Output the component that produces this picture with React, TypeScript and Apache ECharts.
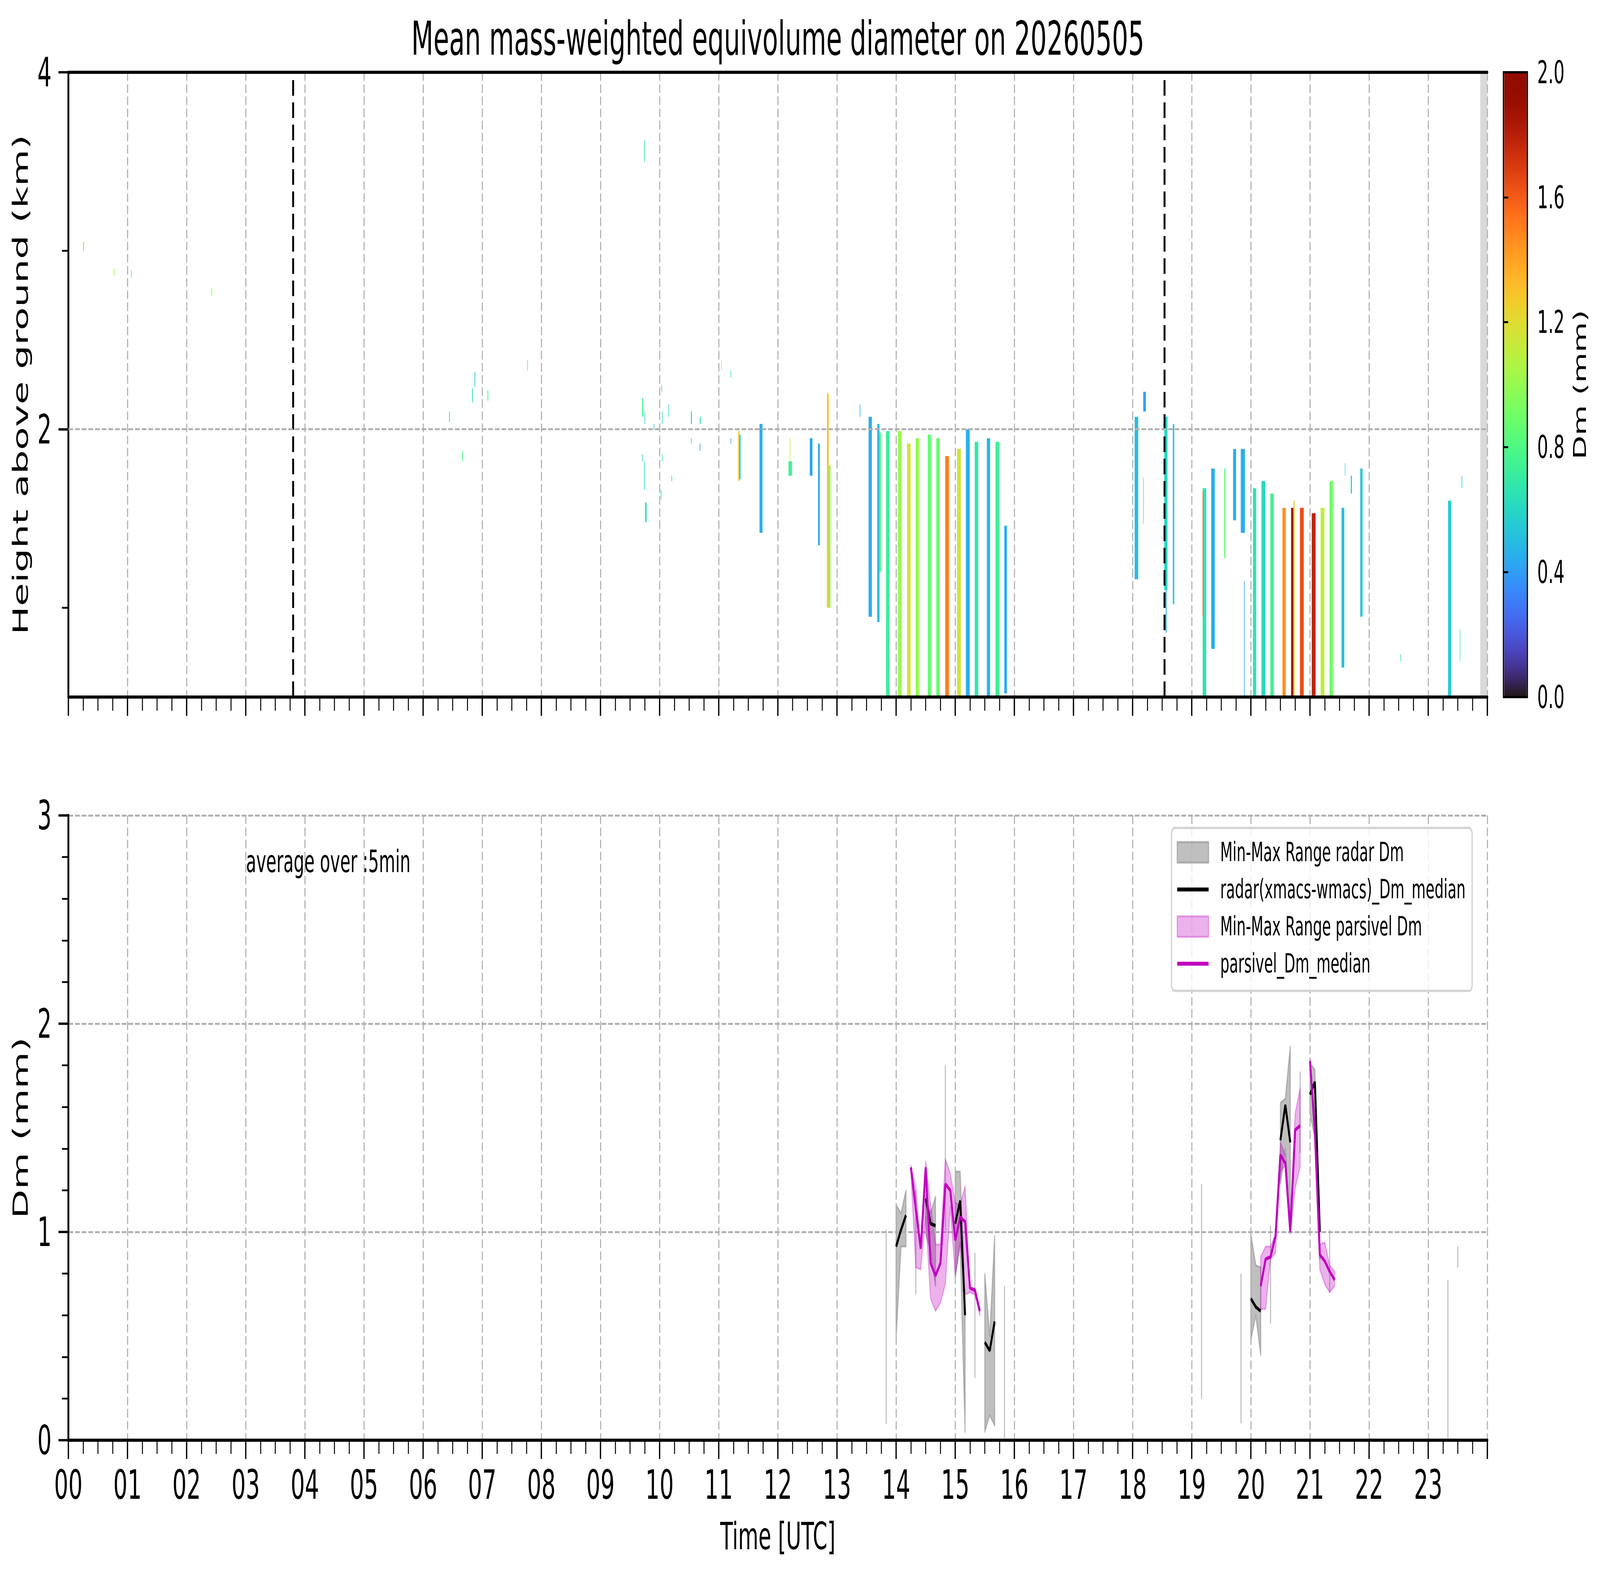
import { useEffect, useRef } from 'react'
import * as echarts from 'echarts'

// radar Dm field: [start (h), end (h), bottom (km), top (km), Dm (mm)]
const radarCells: number[][] = [
  [0.25, 0.262, 3.0, 3.05, 1.4],
  [0.77, 0.782, 2.86, 2.9, 1.0],
  [1.06, 1.072, 2.85, 2.89, 0.9],
  [2.42, 2.432, 2.75, 2.79, 0.95],
  [6.44, 6.452, 2.04, 2.1, 0.65],
  [6.66, 6.672, 1.82, 1.88, 0.8],
  [6.83, 6.842, 2.15, 2.23, 0.6],
  [6.87, 6.882, 2.24, 2.32, 0.55],
  [7.09, 7.102, 2.16, 2.22, 0.75],
  [7.76, 7.772, 2.33, 2.39, 0.85],
  [9.74, 9.752, 3.5, 3.62, 0.7],
  [9.706, 9.724, 2.07, 2.175, 0.75],
  [9.745, 9.755, 2.03, 2.1, 0.55],
  [9.71, 9.72, 1.82, 1.86, 0.55],
  [9.74, 9.75, 1.66, 1.82, 0.6],
  [9.755, 9.78, 1.48, 1.59, 0.62],
  [9.9, 9.91, 2.0, 2.03, 0.5],
  [10.03, 10.04, 2.21, 2.25, 0.65],
  [10.04, 10.05, 2.03, 2.1, 0.6],
  [10.04, 10.05, 1.82, 1.86, 0.65],
  [10.02, 10.03, 1.61, 1.66, 0.55],
  [10.15, 10.16, 2.07, 2.14, 0.6],
  [10.2, 10.21, 1.71, 1.74, 0.55],
  [10.53, 10.545, 2.03, 2.1, 0.5],
  [10.53, 10.54, 1.92, 1.95, 0.6],
  [10.68, 10.695, 2.03, 2.07, 0.65],
  [10.68, 10.69, 1.88, 1.92, 0.35],
  [11.04, 11.05, 2.33, 2.38, 1.2],
  [11.2, 11.21, 2.29, 2.33, 0.65],
  [11.2, 11.21, 1.92, 1.95, 0.4],
  [11.33, 11.35, 1.71, 1.99, 1.3],
  [11.35, 11.37, 1.72, 1.97, 0.55],
  [11.69, 11.74, 1.42, 2.03, 0.45],
  [12.18, 12.24, 1.74, 1.82, 0.75],
  [12.2, 12.21, 1.82, 1.95, 1.1],
  [12.54, 12.585, 1.74, 1.95, 0.42],
  [12.68, 12.71, 1.35, 1.92, 0.45],
  [12.83, 12.86, 1.0, 2.2, 1.3],
  [12.86, 12.89, 1.0, 1.8, 0.95],
  [13.385, 13.395, 2.07, 2.14, 0.45],
  [13.535, 13.59, 0.95, 2.07, 0.45],
  [13.68, 13.72, 0.92, 2.03, 0.5],
  [13.72, 13.745, 1.2, 1.98, 0.8],
  [13.83, 13.89, 0.5, 1.99, 0.72],
  [14.03, 14.095, 0.5, 1.99, 1.0],
  [14.185, 14.245, 0.5, 1.92, 1.16],
  [14.33, 14.39, 0.5, 1.95, 1.0],
  [14.535, 14.59, 0.5, 1.97, 0.86],
  [14.68, 14.74, 0.5, 1.95, 0.88],
  [14.83, 14.895, 0.5, 1.85, 1.5],
  [15.03, 15.095, 0.5, 1.89, 1.16],
  [15.18, 15.245, 0.5, 2.0, 0.46],
  [15.33, 15.39, 0.5, 1.93, 0.68],
  [15.535, 15.59, 0.5, 1.95, 0.48],
  [15.68, 15.745, 0.5, 1.93, 0.74],
  [15.83, 15.875, 0.52, 1.46, 0.45],
  [18.035, 18.095, 1.16, 2.07, 0.5],
  [18.18, 18.225, 2.1, 2.21, 0.4],
  [18.18, 18.19, 1.47, 1.73, 0.7],
  [18.535, 18.59, 1.1, 2.07, 0.6],
  [18.56, 18.575, 0.86, 1.1, 0.45],
  [18.68, 18.705, 1.02, 2.03, 0.55],
  [19.185, 19.245, 0.5, 1.67, 0.66],
  [19.185, 19.195, 0.95, 1.65, 1.6],
  [19.33, 19.39, 0.77, 1.78, 0.45],
  [19.55, 19.57, 1.28, 1.78, 0.85],
  [19.7, 19.75, 1.49, 1.89, 0.45],
  [19.83, 19.9, 1.42, 1.89, 0.45],
  [19.885, 19.895, 0.5, 1.15, 0.4],
  [20.035, 20.09, 0.5, 1.67, 0.66],
  [20.18, 20.245, 0.5, 1.71, 0.6],
  [20.33, 20.39, 0.5, 1.64, 0.75],
  [20.535, 20.59, 0.5, 1.56, 1.46],
  [20.68, 20.72, 0.5, 1.56, 1.84],
  [20.72, 20.74, 0.5, 1.6, 1.25],
  [20.83, 20.895, 0.5, 1.56, 1.64],
  [21.03, 21.095, 0.5, 1.53, 1.78],
  [21.18, 21.245, 0.5, 1.56, 1.1],
  [21.33, 21.39, 0.5, 1.71, 0.9],
  [21.535, 21.58, 0.665, 1.56, 0.5],
  [21.59, 21.596, 1.74, 1.81, 0.55],
  [21.69, 21.71, 1.64, 1.74, 0.6],
  [21.85, 21.89, 0.95, 1.78, 0.55],
  [22.53, 22.54, 0.7, 0.74, 0.65],
  [23.335, 23.39, 0.5, 1.6, 0.56],
  [23.535, 23.541, 0.7, 0.88, 0.6],
  [23.565, 23.575, 1.67, 1.74, 0.55],
]

const noDataSpan = [23.88, 24]
const eventTimes = [3.8, 18.535]

// 5-minute statistics of Dm (mm)
const statTimes = [
  '13:50', '14:00', '14:05', '14:10', '14:15', '14:20', '14:25', '14:30', '14:35', '14:40', '14:45', '14:50',
  '14:55', '15:00', '15:05', '15:10', '15:15', '15:20', '15:25', '15:30', '15:35', '15:40', '15:50',
  '19:10', '19:50', '20:00', '20:05', '20:10', '20:15', '20:20', '20:25', '20:30', '20:35', '20:40', '20:45',
  '20:50', '21:00', '21:05', '21:10', '21:15', '21:20', '21:25', '23:20', '23:30',
]
const radarMin = [
  0.08, 0.49, 0.93, 0.93, null, 0.7, null, 0.99, 0.91, 0.74, null, 1.01,
  null, 0.78, 0.94, 0.04, null, 0.3, null, 0.04, 0.12, 0.07, 0.01,
  0.2, 0.08, 0.48, 0.6, 0.41, null, 0.56, null, 1.23, 1.4, 1.0, null,
  1.38, 1.57, 1.45, 0.87, null, 0.71, null, 0.0, 0.83,
]
const radarMax = [
  1.01, 1.13, 1.09, 1.2, null, 1.2, null, 1.17, 1.09, 1.17, null, 1.8,
  null, 1.29, 1.29, 0.65, null, 0.9, null, 0.8, 0.5, 0.98, 0.74,
  1.23, 0.8, 0.99, 0.84, 0.83, null, 1.03, null, 1.62, 1.64, 1.89, null,
  1.77, 1.81, 1.78, 1.0, null, 1.01, null, 0.77, 0.93,
]
const radarMedian = [
  null, 0.93, 1.01, 1.08, null, null, null, 1.16, 1.04, 1.03, null, null,
  null, 1.04, 1.15, 0.6, null, null, null, 0.47, 0.43, 0.57, null,
  null, null, 0.68, 0.64, 0.62, null, null, null, 1.44, 1.61, 1.43, null,
  null, 1.66, 1.72, 1.0, null, null, null, null, null,
]
const parsivelMin = [
  null, null, null, null, 1.29, 0.83, 0.82, 1.07, 0.68, 0.62, 0.66, 0.75,
  1.12, 0.79, 0.95, 0.7, 0.71, 0.7, 0.6, null, null, null, null,
  null, null, null, null, 0.63, 0.63, 0.87, 0.9, 1.29, 1.32, 0.99, 1.21,
  1.31, 1.8, 1.45, 0.82, 0.75, 0.71, 0.74, null, null,
]
const parsivelMax = [
  null, null, null, null, 1.32, 1.21, 0.93, 1.34, 1.13, 0.94, 0.94, 1.35,
  1.28, 1.14, 1.13, 1.22, 0.73, 0.73, 0.63, null, null, null, null,
  null, null, null, null, 0.88, 0.93, 0.93, 0.99, 1.43, 1.37, 1.06, 1.57,
  1.69, 1.83, 1.55, 0.94, 0.95, 0.84, 0.81, null, null,
]
const parsivelMedian = [
  null, null, null, null, 1.31, 1.11, 0.92, 1.31, 0.85, 0.79, 0.85, 1.23,
  1.2, 0.96, 1.07, 1.05, 0.73, 0.72, 0.62, null, null, null, null,
  null, null, null, null, 0.74, 0.87, 0.88, 0.98, 1.37, 1.33, 1.0, 1.49,
  1.51, 1.82, 1.48, 0.89, 0.86, 0.81, 0.77, null, null,
]

const hourTicks = [
  '00', '01', '02', '03', '04', '05', '06', '07', '08', '09', '10', '11',
  '12', '13', '14', '15', '16', '17', '18', '19', '20', '21', '22', '23',
]
const heightTicks = [2, 4]
const heightMinorTicks = [1, 3]

const FONT = 'DejaVu Sans'
const STEP = 5 / 60
// the figure is laid out on a 7442 x 4031 canvas
const FIG_W = 7442
const FIG_H = 4031

const GRID_LINE = { color: '#b0b0b0', width: 5, type: [22, 9] }
const TICK = { color: '#000', width: 6 }
const MINOR = { color: '#000', width: 4.5 }
const SPINE = { show: true, lineStyle: { color: '#000', width: 8 } }
const FRAME = { axisLine: SPINE, axisTick: { show: false }, axisLabel: { show: false }, splitLine: { show: false }, z: 3 }

const toHours = (s: string) => {
  const [h, m] = s.split(':').map(Number)
  return h + m / 60
}
const statHours = statTimes.map(toHours)

// polynomial fit of the turbo colormap
function turbo(x: number) {
  const r = 0.13572138 + x * (4.6153926 + x * (-42.66032258 + x * (132.13108234 + x * (-152.94239396 + x * 59.28637943))))
  const g = 0.09140261 + x * (2.19418839 + x * (4.84296658 + x * (-14.18503333 + x * (4.27729857 + x * 2.82956604))))
  const b = 0.1066733 + x * (12.64194608 + x * (-60.58204836 + x * (110.36276771 + x * (-89.90310912 + x * 27.34824973))))
  const c = (v: number) => Math.round(Math.max(0, Math.min(1, v)) * 255)
  return `rgb(${c(r)},${c(g)},${c(b)})`
}
const turboColors = Array.from({ length: 41 }, (_, i) => turbo(i / 40))

function findRuns(lo: (number | null)[], hi: (number | null)[]) {
  const runs: number[][] = []
  let cur: number[] = []
  statHours.forEach((t, i) => {
    const ok = lo[i] != null && hi[i] != null
    const next = cur.length > 0 && t - statHours[cur[cur.length - 1]] < STEP * 1.5
    if (ok && next) {
      cur.push(i)
    } else {
      if (cur.length) runs.push(cur)
      cur = ok ? [i] : []
    }
  })
  if (cur.length) runs.push(cur)
  return runs
}

function lineData(values: (number | null)[]) {
  const out: any[] = []
  values.forEach((v, i) => {
    if (i > 0 && statHours[i] - statHours[i - 1] > STEP * 1.5) out.push([statHours[i - 1] + 0.01, '-'])
    out.push([statHours[i], v == null ? '-' : v])
  })
  return out
}

function rangeSeries(name: string, lo: (number | null)[], hi: (number | null)[], fill: string, z: number) {
  const runs = findRuns(lo, hi)
  return {
    name,
    type: 'custom',
    xAxisIndex: 2,
    yAxisIndex: 3,
    z,
    itemStyle: { color: fill },
    data: runs.map((r) => [statHours[r[0]], lo[r[0]]]),
    renderItem: (params: any, api: any) => {
      const run = runs[params.dataIndex]
      const top = run.map((i) => api.coord([statHours[i], hi[i]]))
      const bottom = run.map((i) => api.coord([statHours[i], lo[i]])).reverse()
      if (run.length === 1) {
        return {
          type: 'line',
          shape: { x1: top[0][0], y1: top[0][1], x2: bottom[0][0], y2: bottom[0][1] },
          style: { stroke: fill, lineWidth: 5 },
        }
      }
      return {
        type: 'polygon',
        shape: { points: top.concat(bottom) },
        style: { fill, stroke: fill, lineWidth: 5, lineJoin: 'round' },
      }
    },
  }
}

// legend glyph for a line: a 10 px bar in the middle of the 146 x 53 legend key
const LINE_KEY = 'path://M0,0M0,21.5h146v10h-146zM146,53'

const label = (size: number, margin: number) => ({ fontSize: size, fontFamily: FONT, color: '#000', margin })
const nameStyle = (size: number) => ({ fontFamily: FONT, fontSize: size, color: '#000' })

function App() {
  const chartRef = useRef<HTMLDivElement | null>(null)

  useEffect(() => {
    const el = chartRef.current
    if (!el) {
      return undefined
    }
    document.body.style.margin = '0'
    document.body.style.overflow = 'hidden'

    // fit the fixed-size figure into whatever viewport we get
    const fit = () => {
      const sx = window.innerWidth / FIG_W
      const sy = window.innerHeight / FIG_H
      el.style.transform = `scale(${sx}, ${sy})`
    }
    fit()

    const chart = echarts.init(el, null, { renderer: 'svg' })
    const option: any = {
      animation: false,
      backgroundColor: '#fff',
      textStyle: { fontFamily: FONT, color: '#000' },
      title: [
        {
          text: 'Mean mass-weighted equivolume diameter on 20260505',
          left: 3618,
          top: 40,
          textAlign: 'center',
          padding: 0,
          textStyle: { fontFamily: FONT, fontSize: 119, fontWeight: 'normal', color: '#000' },
        },
        {
          text: 'average over :5min',
          left: 1144,
          top: 2166,
          padding: 0,
          textStyle: { fontFamily: FONT, fontSize: 78, fontWeight: 'normal', color: '#000' },
        },
      ],
      grid: [
        { left: 318, top: 185, width: 6600, height: 1599 },
        { left: 318, top: 2087, width: 6600, height: 1599 },
        { left: 6993, top: 185, width: 111, height: 1599, show: true, borderColor: '#000', borderWidth: 6 },
      ],
      visualMap: {
        type: 'continuous',
        seriesIndex: 0,
        dimension: 4,
        min: 0,
        max: 2,
        calculable: false,
        hoverLink: false,
        orient: 'vertical',
        left: 6996,
        top: 188,
        padding: 0,
        itemWidth: 105,
        itemHeight: 1593,
        text: null,
        inRange: { color: turboColors },
      },
      legend: {
        orient: 'vertical',
        left: 5449,
        top: 2119,
        padding: [29, 30, 36, 24],
        itemWidth: 146,
        itemHeight: 53,
        itemGap: 28,
        backgroundColor: 'rgba(255,255,255,0.8)',
        borderColor: '#d5d5d5',
        borderWidth: 6,
        borderRadius: 15,
        textStyle: { fontFamily: FONT, fontSize: 67, color: '#000', lineHeight: 53, padding: [0, 0, 0, 49] },
        data: [
          {
            name: 'Min-Max Range radar Dm',
            icon: 'rect',
            itemStyle: { color: 'rgba(128,128,128,0.5)', borderColor: 'rgba(128,128,128,0.5)', borderWidth: 5 },
          },
          { name: 'radar(xmacs-wmacs)_Dm_median', icon: LINE_KEY, itemStyle: { color: '#000', borderWidth: 0 } },
          {
            name: 'Min-Max Range parsivel Dm',
            icon: 'rect',
            itemStyle: { color: 'rgba(191,0,191,0.3)', borderColor: 'rgba(191,0,191,0.3)', borderWidth: 5 },
          },
          { name: 'parsivel_Dm_median', icon: LINE_KEY, itemStyle: { color: '#bf00bf', borderWidth: 0 } },
        ],
      },
      xAxis: [
        {
          gridIndex: 0,
          type: 'value',
          min: 0,
          max: 24,
          interval: 1,
          z: 3,
          axisLine: SPINE,
          axisTick: { length: 48, lineStyle: TICK },
          minorTick: { show: true, splitNumber: 4, length: 35, lineStyle: MINOR },
          axisLabel: { show: false },
          splitLine: { show: true, lineStyle: GRID_LINE },
        },
        { gridIndex: 0, type: 'value', min: 0, max: 24, position: 'top', ...FRAME },
        {
          gridIndex: 1,
          type: 'value',
          min: 0,
          max: 24,
          interval: 1,
          z: 3,
          axisLine: SPINE,
          axisTick: { length: 48, lineStyle: TICK },
          minorTick: { show: true, splitNumber: 4, length: 35, lineStyle: MINOR },
          axisLabel: { ...label(104, 62), formatter: (v: number) => hourTicks[v] ?? '' },
          splitLine: { show: true, lineStyle: GRID_LINE },
          name: 'Time [UTC]',
          nameLocation: 'middle',
          nameGap: 196,
          nameTextStyle: nameStyle(97),
        },
        { gridIndex: 1, type: 'value', min: 0, max: 24, position: 'top', ...FRAME },
        { gridIndex: 2, type: 'value', min: 0, max: 1, show: false },
      ],
      yAxis: [
        {
          gridIndex: 0,
          type: 'value',
          min: 0.5,
          max: 4,
          position: 'left',
          z: 3,
          axisLine: SPINE,
          axisTick: { customValues: heightTicks, length: 46, lineStyle: TICK },
          axisLabel: { ...label(104, 78), customValues: heightTicks },
          splitLine: { show: false },
          name: 'Height above ground (km)',
          nameLocation: 'middle',
          nameGap: 174,
          nameTextStyle: nameStyle(97),
        },
        { gridIndex: 0, type: 'value', min: 0.5, max: 4, position: 'right', ...FRAME },
        {
          gridIndex: 1,
          type: 'value',
          min: 0,
          max: 3,
          interval: 1,
          position: 'left',
          z: 3,
          axisLine: SPINE,
          axisTick: { length: 46, lineStyle: TICK },
          minorTick: { show: true, splitNumber: 5, length: 30, lineStyle: MINOR },
          axisLabel: label(104, 78),
          splitLine: { show: true, lineStyle: GRID_LINE },
          name: 'Dm (mm)',
          nameLocation: 'middle',
          nameGap: 174,
          nameTextStyle: nameStyle(97),
        },
        { gridIndex: 1, type: 'value', min: 0, max: 3, position: 'right', ...FRAME },
        {
          gridIndex: 2,
          type: 'value',
          min: 0,
          max: 2,
          interval: 0.4,
          position: 'right',
          z: 5,
          axisLine: { show: false },
          axisTick: { length: 22, lineStyle: { color: '#000', width: 5 } },
          axisLabel: { ...label(80, 46), formatter: (v: number) => v.toFixed(1) },
          splitLine: { show: false },
          name: 'Dm (mm)',
          nameLocation: 'middle',
          nameRotate: 90,
          nameGap: 204,
          nameTextStyle: nameStyle(80),
        },
      ],
      series: [
        {
          name: 'radar Dm field',
          type: 'custom',
          xAxisIndex: 0,
          yAxisIndex: 0,
          z: 2,
          encode: { x: [0, 1], y: [2, 3] },
          data: radarCells,
          renderItem: (_params: any, api: any) => {
            const p0 = api.coord([api.value(0), api.value(3)])
            const p1 = api.coord([api.value(1), api.value(2)])
            return {
              type: 'rect',
              shape: { x: p0[0], y: p0[1], width: Math.max(p1[0] - p0[0], 2), height: p1[1] - p0[1] },
              style: { fill: api.visual('color') },
            }
          },
          markArea: {
            silent: true,
            itemStyle: { color: '#d9d9d9', opacity: 1 },
            data: [[{ xAxis: noDataSpan[0] }, { xAxis: noDataSpan[1] }]],
          },
          markLine: {
            silent: true,
            symbol: 'none',
            label: { show: false },
            data: [
              ...eventTimes.map((t) => ({ xAxis: t, lineStyle: { color: '#000', width: 9, type: [40, 17] } })),
              { yAxis: 2, lineStyle: GRID_LINE },
            ],
          },
        },
        rangeSeries('Min-Max Range radar Dm', radarMin, radarMax, 'rgba(128,128,128,0.5)', 2),
        {
          name: 'radar(xmacs-wmacs)_Dm_median',
          type: 'line',
          xAxisIndex: 2,
          yAxisIndex: 3,
          z: 4,
          symbol: 'none',
          connectNulls: false,
          lineStyle: { color: '#000', width: 9 },
          itemStyle: { color: '#000' },
          data: lineData(radarMedian),
        },
        rangeSeries('Min-Max Range parsivel Dm', parsivelMin, parsivelMax, 'rgba(191,0,191,0.3)', 4),
        {
          name: 'parsivel_Dm_median',
          type: 'line',
          xAxisIndex: 2,
          yAxisIndex: 3,
          z: 5,
          symbol: 'none',
          connectNulls: false,
          lineStyle: { color: '#bf00bf', width: 9 },
          itemStyle: { color: '#bf00bf' },
          data: lineData(parsivelMedian),
        },
        {
          // minor height ticks (1 km, 3 km) on the left spine of the upper panel
          name: 'height minor ticks',
          type: 'custom',
          xAxisIndex: 0,
          yAxisIndex: 0,
          z: 3,
          silent: true,
          clip: false,
          data: heightMinorTicks.map((v) => [0, v]),
          renderItem: (_params: any, api: any) => {
            const c = api.coord([0, api.value(1)])
            return {
              type: 'line',
              shape: { x1: c[0] - 30, y1: c[1], x2: c[0], y2: c[1] },
              style: { stroke: '#000', lineWidth: MINOR.width },
            }
          },
        },
      ],
    }

    chart.setOption(option)

    window.addEventListener('resize', fit)

    return () => {
      window.removeEventListener('resize', fit)
      chart.dispose()
    }
  }, [])

  return (
    <div
      ref={chartRef}
      style={{ width: FIG_W, height: FIG_H, transformOrigin: '0 0', position: 'absolute', left: 0, top: 0 }}
    />
  )
}

export default App
